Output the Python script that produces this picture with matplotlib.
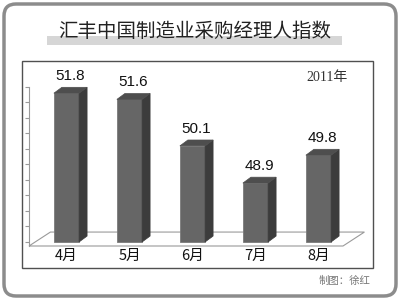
import numpy as np
import matplotlib
matplotlib.use("Agg")
import matplotlib.pyplot as plt
from matplotlib.patches import Polygon, Rectangle, FancyBboxPatch

plt.rcParams['font.family'] = ['Noto Sans CJK SC', 'DejaVu Sans']

months = ['4月', '5月', '6月', '7月', '8月']
values = [51.8, 51.6, 50.1, 48.9, 49.8]
title = '汇丰中国制造业采购经理人指数'
year_note = '2011年'
credit = '制图：徐红'

base = 47.0
y_ticks = np.arange(47.0, 52.01, 0.5)

fig = plt.figure(figsize=(4, 3), dpi=100)
fig.patch.set_facecolor('white')

# background layer in pixel units for the frame and title
bg = fig.add_axes([0, 0, 1, 1])
bg.set_xlim(0, 400)
bg.set_ylim(300, 0)
bg.axis('off')
bg.add_patch(FancyBboxPatch((4, 4), 392, 292, boxstyle='round,pad=0,rounding_size=12',
                            fc='white', ec='#8c8c8c', lw=2.5))
bg.add_patch(Rectangle((47, 36), 295, 9, fc='#d6d6d6', ec='none'))
bg.text(195, 31, title, ha='center', va='center', fontsize=14, color='#222222')
bg.add_patch(Rectangle((22, 61), 351, 207, fc='white', ec='#505050', lw=1))
bg.text(327, 77, year_note, ha='center', va='center', fontsize=10, color='#333333',
        family=['Liberation Serif', 'Noto Sans CJK SC'])
bg.text(370, 281, credit, ha='right', va='center', fontsize=7.5, color='#777777')

# data axes
ax = fig.add_axes([29 / 400, 1 - 246 / 300, 314 / 400, 159 / 300])
ax.set_xlim(-0.595, 4.389)
ax.set_ylim(46.87, 52.0)
ax.patch.set_alpha(0)
for s in ['top', 'right', 'bottom']:
    ax.spines[s].set_visible(False)
ax.spines['left'].set_color('#9a9a9a')
ax.set_yticks(y_ticks)
ax.set_yticklabels([])
ax.tick_params(axis='y', length=3, color='#9a9a9a', width=0.8)

x = np.arange(len(values))
ax.set_xticks(x)
ax.set_xticklabels(months, fontsize=10.5, fontweight='medium', color='#111111')
ax.tick_params(axis='x', length=0, pad=2)

# floor
x0, x1 = ax.get_xlim()
y0 = ax.get_ylim()[0]
fdx, fdy = 0.34, 0.45
floor = Polygon([(x0, y0), (x0 + fdx, y0 + fdy), (x1 + fdx, y0 + fdy), (x1, y0)],
                closed=True, fc='white', ec='#9a9a9a', lw=0.8, clip_on=False, zorder=1)
ax.add_patch(floor)

# 3d bars
w = 0.4
dx, dy = 0.127, 0.19
ax.bar(x, np.array(values) - base, bottom=base, width=w, color='#666666',
       edgecolor='#7a7a7a', lw=0.6, zorder=3)
for xi, v in zip(x, values):
    r = xi + w / 2
    l = xi - w / 2
    side = Polygon([(r, base), (r + dx, base + dy), (r + dx, v + dy), (r, v)],
                   closed=True, fc='#3c3c3c', ec='#3c3c3c', lw=0.5, zorder=3, clip_on=False)
    top = Polygon([(l, v), (l + dx, v + dy), (r + dx, v + dy), (r, v)],
                  closed=True, fc='#4e4e4e', ec='#4e4e4e', lw=0.5, zorder=3, clip_on=False)
    ax.add_patch(side)
    ax.add_patch(top)
    ax.annotate(f'{v:.1f}', (xi + dx / 2, v + dy), xytext=(0, 3), textcoords='offset points',
                ha='center', va='bottom', fontsize=11, color='#111111',
                family=['Liberation Sans', 'DejaVu Sans'], annotation_clip=False)

fig.savefig('out.png', dpi=100)
